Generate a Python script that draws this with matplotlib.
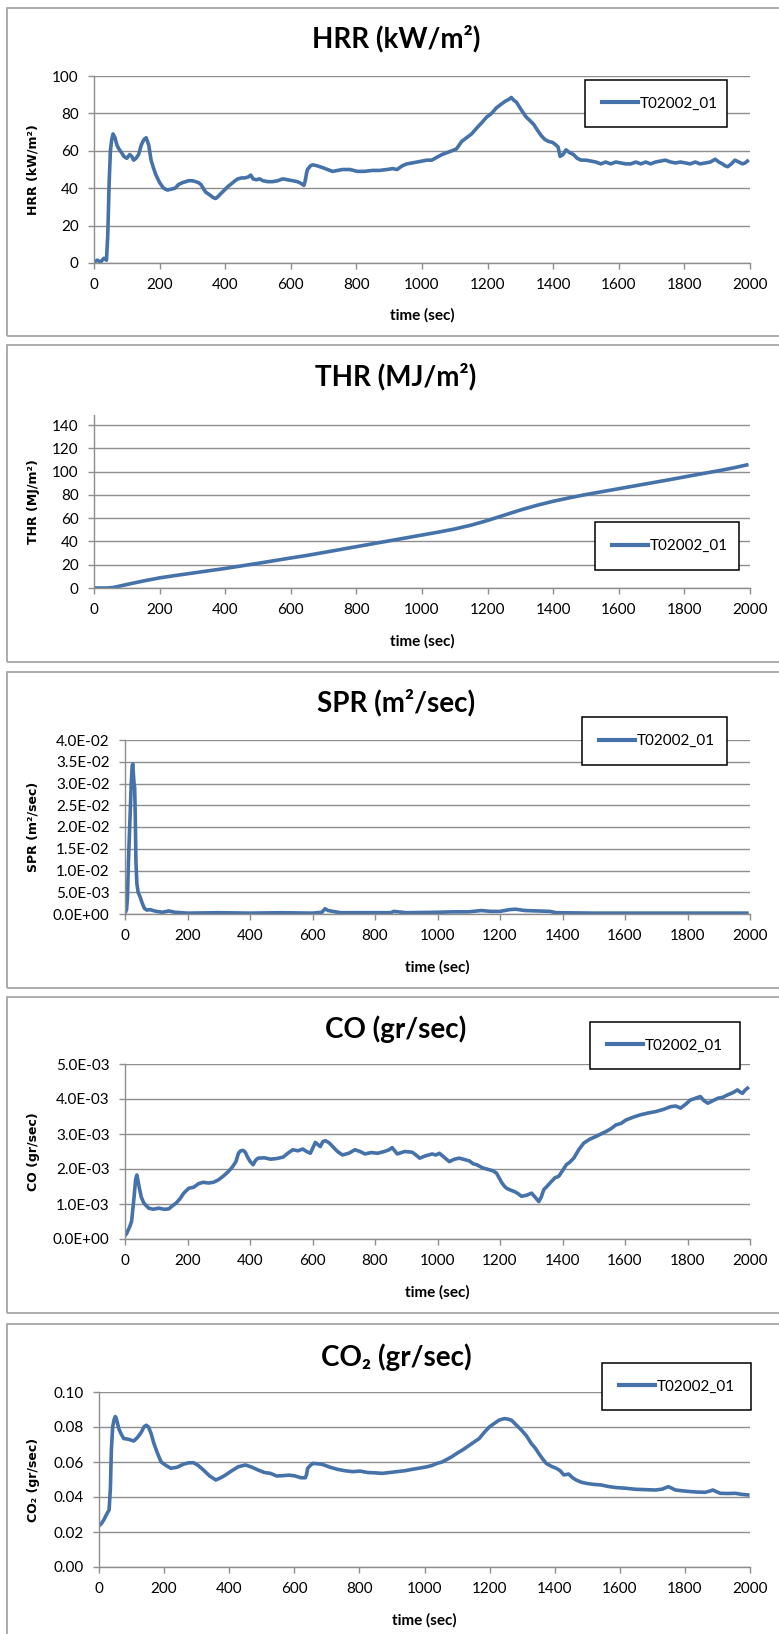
import matplotlib
matplotlib.use("Agg")
import matplotlib.pyplot as plt
import numpy as np
from matplotlib.patches import Rectangle
from matplotlib.ticker import FuncFormatter

# --- data (time in sec) ---
SERIES_NAME = "T02002_01"
TIME_TICKS = [0, 200, 400, 600, 800, 1000, 1200, 1400, 1600, 1800, 2000]

hrr_t = [0, 10, 20, 30, 38, 42, 46, 50, 54, 58,
         64, 70, 76, 84, 91, 100, 109, 115, 121, 128,
         136, 144, 152, 159, 167, 174, 181, 189, 200, 212,
         224, 235, 247, 258, 270, 280, 288, 300, 310, 318,
         326, 333, 340, 348, 356, 363, 371, 378, 386, 395,
         409, 420, 430, 439, 450, 460, 470, 478, 485, 495,
         505, 515, 530, 545, 560, 576, 590, 606, 620, 632,
         640, 644, 648, 651, 660, 667, 680, 697, 712, 727,
         742, 758, 780, 803, 825, 848, 870, 894, 910, 924,
         940, 954, 970, 985, 1000, 1015, 1030, 1045, 1061, 1076,
         1091, 1105, 1121, 1136, 1151, 1166, 1182, 1197, 1212, 1227,
         1242, 1254, 1265, 1272, 1280, 1288, 1295, 1306, 1318, 1330,
         1341, 1352, 1364, 1375, 1386, 1398, 1409, 1415, 1421, 1430,
         1439, 1450, 1462, 1473, 1485, 1500, 1515, 1530, 1545, 1560,
         1575, 1591, 1606, 1621, 1636, 1652, 1667, 1682, 1697, 1712,
         1727, 1742, 1758, 1773, 1788, 1803, 1818, 1833, 1848, 1864,
         1879, 1894, 1905, 1916, 1924, 1932, 1943, 1954, 1966, 1977,
         1985, 1992]
hrr_v = [0.5, 1.5, 0.5, 2.5, 1.5, 15, 42, 60, 66, 69,
         67, 63, 61, 59, 57, 56, 58, 57, 55, 56,
         58, 63, 66, 67, 63, 55, 51, 47, 43, 40,
         39, 39.5, 40, 42, 43, 43.5, 44, 44, 43.5, 43,
         42, 40, 38, 37, 36, 35, 34.5, 35.5, 37, 38.5,
         41, 42.5, 44, 45, 45.5, 45.5, 46, 47, 45, 44.5,
         45, 44, 43.5, 43.5, 44, 45, 44.5, 44, 43.5, 42.5,
         41.5, 44, 48, 50, 52, 52.5, 52, 51, 50, 49,
         49.5, 50, 50, 49, 49, 49.5, 49.5, 50, 50.5, 50,
         52, 53, 53.5, 54, 54.5, 55, 55, 56.5, 58, 59,
         60, 61, 65, 67, 69, 72, 75, 78, 80, 83,
         85, 86.5, 87.5, 88.5, 87, 86, 84, 81, 78, 76,
         74, 71, 68, 66, 65, 64.5, 63, 62, 57, 58,
         60.5, 59, 58, 56, 55, 55, 54.5, 54, 53, 54,
         53, 54, 53.5, 53, 53, 54, 53, 54, 53, 54,
         54.5, 55, 54, 53.5, 54, 53.5, 53, 54, 53, 53.5,
         54, 55.5, 54, 53, 52, 51.5, 53, 55, 54, 53,
         53.5, 54.5]

thr_t = [0, 40, 60, 100, 150, 200, 250, 300, 350, 400,
         450, 500, 550, 600, 650, 700, 750, 800, 850, 900,
         950, 1000, 1050, 1100, 1150, 1200, 1250, 1300, 1350, 1400,
         1450, 1500, 1550, 1600, 1650, 1700, 1750, 1800, 1850, 1900,
         1950, 1990]
thr_v = [0, 0, 0.5, 3, 6, 8.7, 10.8, 12.8, 14.8, 16.8,
         19, 21.2, 23.5, 25.8, 28, 30.5, 33, 35.5, 38, 40.5,
         43, 45.5, 48, 50.7, 54, 58, 62.5, 67, 71, 74.5,
         77.5, 80.3, 82.8, 85.3, 87.8, 90.3, 92.8, 95.4, 98, 100.5,
         103.2, 105.7]

spr_t = [0, 5, 8, 11, 14, 17, 20, 23, 25, 27,
         29, 31, 33, 35, 38, 42, 48, 55, 62, 70,
         80, 90, 100, 120, 140, 160, 200, 300, 400, 500,
         600, 630, 640, 650, 665, 690, 750, 850, 860, 900,
         1000, 1050, 1100, 1140, 1170, 1200, 1230, 1250, 1280, 1320,
         1360, 1380, 1500, 1700, 1990]
spr_v = [0.0002, 0.001, 0.004, 0.012, 0.018, 0.024, 0.030, 0.034, 0.0345, 0.032,
         0.030, 0.029, 0.022, 0.012, 0.007, 0.005, 0.004, 0.0025, 0.0013, 0.0009,
         0.0010, 0.0008, 0.0006, 0.0004, 0.0007, 0.0004, 0.0002, 0.0003, 0.0002, 0.0003,
         0.0002, 0.0004, 0.0012, 0.0008, 0.0006, 0.0003, 0.0003, 0.0003, 0.0006, 0.0003,
         0.0004, 0.0005, 0.0005, 0.0008, 0.0006, 0.0006, 0.0010, 0.0011, 0.0008, 0.0007,
         0.0006, 0.0003, 0.0002, 0.0002, 0.0002]

co_t = [0, 5, 15, 21, 29, 34, 38, 45, 52, 60,
        68, 76, 90, 108, 125, 140, 152, 164, 176, 188,
        204, 220, 235, 250, 267, 283, 299, 315, 331, 343,
        355, 363, 370, 378, 385, 391, 400, 410, 418, 426,
        446, 466, 486, 506, 521, 537, 553, 569, 581, 593,
        601, 609, 617, 625, 633, 641, 653, 665, 680, 696,
        716, 736, 752, 768, 788, 808, 830, 845, 855, 871,
        895, 919, 931, 943, 963, 983, 995, 1006, 1022, 1038,
        1054, 1070, 1086, 1102, 1114, 1126, 1145, 1165, 1177, 1189,
        1197, 1205, 1213, 1221, 1233, 1245, 1257, 1269, 1285, 1301,
        1312, 1324, 1332, 1340, 1352, 1364, 1376, 1388, 1400, 1412,
        1424, 1436, 1452, 1468, 1487, 1507, 1523, 1539, 1555, 1571,
        1587, 1603, 1626, 1650, 1674, 1698, 1722, 1746, 1762, 1778,
        1794, 1809, 1825, 1841, 1853, 1865, 1881, 1897, 1913, 1929,
        1945, 1960, 1968, 1976, 1984, 1992]
# CO values in units of 1e-3 gr/sec
co_v = [0.10, 0.15, 0.35, 0.50, 1.20, 1.70, 1.83, 1.50, 1.20, 1.03,
        0.95, 0.88, 0.85, 0.88, 0.85, 0.86, 0.95, 1.03, 1.15, 1.31,
        1.45, 1.48, 1.58, 1.62, 1.60, 1.62, 1.69, 1.80, 1.93, 2.05,
        2.21, 2.45, 2.52, 2.53, 2.48, 2.36, 2.22, 2.12, 2.25, 2.31,
        2.32, 2.28, 2.30, 2.34, 2.45, 2.55, 2.52, 2.57, 2.50, 2.45,
        2.60, 2.76, 2.70, 2.64, 2.78, 2.81, 2.75, 2.64, 2.50, 2.40,
        2.45, 2.55, 2.50, 2.43, 2.47, 2.45, 2.50, 2.55, 2.61, 2.43,
        2.50, 2.48, 2.40, 2.31, 2.38, 2.43, 2.40, 2.45, 2.33, 2.21,
        2.28, 2.31, 2.27, 2.23, 2.15, 2.12, 2.03, 1.98, 1.95, 1.88,
        1.75, 1.62, 1.52, 1.45, 1.40, 1.36, 1.30, 1.22, 1.25, 1.31,
        1.20, 1.07, 1.20, 1.41, 1.52, 1.64, 1.75, 1.79, 1.95, 2.12,
        2.20, 2.31, 2.55, 2.74, 2.85, 2.93, 3.00, 3.07, 3.15, 3.26,
        3.30, 3.40, 3.48, 3.55, 3.60, 3.64, 3.70, 3.78, 3.80, 3.74,
        3.85, 3.97, 4.02, 4.07, 3.95, 3.88, 3.95, 4.02, 4.05, 4.12,
        4.18, 4.26, 4.20, 4.16, 4.25, 4.31]

co2_t = [0, 8, 15, 23, 31, 35, 38, 42, 46, 50,
         53, 57, 61, 68, 76, 90, 107, 118, 130, 138,
         145, 152, 160, 168, 176, 184, 191, 206, 221, 240,
         260, 275, 290, 305, 321, 340, 359, 374, 389, 408,
         428, 450, 470, 489, 508, 527, 546, 565, 584, 603,
         620, 634, 638, 641, 649, 657, 672, 687, 710, 733,
         756, 779, 802, 825, 848, 870, 893, 916, 939, 962,
         985, 1008, 1023, 1038, 1054, 1069, 1084, 1099, 1118, 1138,
         1153, 1168, 1184, 1199, 1214, 1229, 1245, 1257, 1267, 1283,
         1298, 1313, 1328, 1340, 1351, 1362, 1374, 1390, 1405, 1417,
         1428, 1443, 1455, 1466, 1481, 1497, 1520, 1542, 1565, 1588,
         1618, 1649, 1680, 1710, 1730, 1749, 1760, 1771, 1794, 1817,
         1840, 1863, 1875, 1886, 1897, 1909, 1932, 1955, 1975, 1993]
co2_v = [0.0235, 0.025, 0.027, 0.030, 0.0326, 0.045, 0.067, 0.080, 0.084, 0.086,
         0.085, 0.082, 0.079, 0.076, 0.0734, 0.073, 0.072, 0.074, 0.077, 0.080,
         0.081, 0.080, 0.0763, 0.071, 0.0668, 0.063, 0.060, 0.058, 0.0564, 0.057,
         0.0588, 0.0595, 0.0596, 0.058, 0.0554, 0.052, 0.0497, 0.051, 0.0526, 0.055,
         0.0573, 0.0583, 0.057, 0.0554, 0.054, 0.0535, 0.052, 0.0522, 0.0525, 0.052,
         0.051, 0.051, 0.053, 0.0564, 0.058, 0.0592, 0.059, 0.0586, 0.057, 0.0558,
         0.055, 0.0545, 0.0548, 0.054, 0.0538, 0.0535, 0.054, 0.0545, 0.055, 0.0558,
         0.0565, 0.0573, 0.058, 0.0592, 0.060, 0.0615, 0.063, 0.0649, 0.067, 0.0696,
         0.0715, 0.0734, 0.077, 0.080, 0.082, 0.0839, 0.0848, 0.0845, 0.0839, 0.081,
         0.0782, 0.075, 0.0706, 0.068, 0.0649, 0.062, 0.0592, 0.0575, 0.0564, 0.055,
         0.0526, 0.0531, 0.051, 0.0497, 0.0485, 0.0478, 0.0472, 0.0469, 0.046, 0.0454,
         0.045, 0.0444, 0.0442, 0.044, 0.0445, 0.0459, 0.045, 0.044, 0.0435, 0.0431,
         0.0428, 0.0427, 0.0433, 0.044, 0.043, 0.0421, 0.042, 0.0421, 0.0415, 0.0412]

# --- layout, in pixels of the 779x1634 target ---
W, H = 779, 1634
LINE_COLOR = "#4672AA"
GRID_COLOR = "#8E8E8E"
FRAME_COLOR = "#A6A6A6"
NARROW = ["Lato", "DejaVu Sans"]


def fig_rect(left, top, right, bottom):
    return [left / W, 1 - bottom / H, (right - left) / W, (bottom - top) / H]


def fig_xy(x, y):
    return (x / W, 1 - y / H)


def sci(v, _pos):
    return f"{v:.1E}"


panels = [
    dict(t=hrr_t, v=np.array(hrr_v), title="HRR (kW/m²)", ylabel="HRR (kW/m²)",
         frame=(7, 8, 800, 336), axes=(94, 76, 750, 263), title_y=39,
         yticks=[0, 20, 40, 60, 80, 100], ylim=(0, 100), fmt=None,
         legend=(585, 79, 727, 128), xlabel_y=308),
    dict(t=thr_t, v=np.array(thr_v), title="THR (MJ/m²)", ylabel="THR (MJ/m²)",
         frame=(7, 345, 800, 662), axes=(94, 415, 750, 588), title_y=377,
         yticks=[0, 20, 40, 60, 80, 100, 120, 140], ylim=(0, 148.6), fmt=None,
         legend=(595, 522, 739, 570), xlabel_y=634),
    dict(t=spr_t, v=np.array(spr_v), title="SPR (m²/sec)", ylabel="SPR (m²/sec)",
         frame=(7, 672, 800, 988), axes=(125, 740, 750, 914), title_y=703,
         yticks=[0, 0.005, 0.01, 0.015, 0.02, 0.025, 0.03, 0.035, 0.04], ylim=(0, 0.04), fmt=sci,
         legend=(582, 717, 727, 765), xlabel_y=960),
    dict(t=co_t, v=np.array(co_v) * 1e-3, title="CO (gr/sec)", ylabel="CO (gr/sec)",
         frame=(7, 997, 800, 1313), axes=(125, 1064, 750, 1239), title_y=1029,
         yticks=[0, 0.001, 0.002, 0.003, 0.004, 0.005], ylim=(0, 0.005), fmt=sci,
         legend=(590, 1020, 740, 1071), xlabel_y=1285),
    dict(t=co2_t, v=np.array(co2_v), title="CO₂ (gr/sec)", ylabel="CO₂ (gr/sec)",
         frame=(7, 1324, 800, 1700), axes=(99, 1392, 750, 1567), title_y=1357,
         yticks=[0, 0.02, 0.04, 0.06, 0.08, 0.10], ylim=(0, 0.10),
         fmt=lambda v, _p: f"{v:.2f}",
         legend=(602, 1362, 751, 1411), xlabel_y=1613),
]

fig = plt.figure(figsize=(W / 100, H / 100), dpi=100)

for p in panels:
    l, t, r, b = p["frame"]
    fig.patches.append(Rectangle(fig_xy(l, b), (r - l) / W, (b - t) / H, transform=fig.transFigure,
                                 fill=False, edgecolor=FRAME_COLOR, linewidth=1.3))

    ax = fig.add_axes(fig_rect(*p["axes"]))
    ax.plot(p["t"], p["v"], color=LINE_COLOR, linewidth=2.6, label=SERIES_NAME,
            solid_joinstyle="round")
    ax.set_xlim(0, 2000)
    ax.set_ylim(*p["ylim"])
    ax.set_xticks(TIME_TICKS)
    ax.set_yticks(p["yticks"])
    if p["fmt"] is not None:
        ax.yaxis.set_major_formatter(FuncFormatter(p["fmt"]))

    ax.grid(axis="y", color=GRID_COLOR, linewidth=1.0)
    ax.set_axisbelow(True)
    for side in ("top", "right"):
        ax.spines[side].set_visible(False)
    for side in ("left", "bottom"):
        ax.spines[side].set_color(GRID_COLOR)
        ax.spines[side].set_linewidth(1.0)
    ax.tick_params(axis="both", direction="out", length=4, width=1.0, color=GRID_COLOR,
                   labelsize=11)
    ax.tick_params(axis="x", pad=7)
    ax.tick_params(axis="y", pad=7)
    for lab in ax.get_xticklabels() + ax.get_yticklabels():
        lab.set_family(NARROW)

    ax.set_xlabel("time (sec)", family=NARROW, fontweight="bold", fontsize=11)
    ax.xaxis.set_label_coords(*fig_xy((p["axes"][0] + p["axes"][2]) / 2, p["xlabel_y"]),
                              transform=fig.transFigure)
    ax.set_ylabel(p["ylabel"], fontweight="bold", fontsize=9)
    ax.yaxis.set_label_coords(*fig_xy(40, (p["axes"][1] + p["axes"][3]) / 2),
                              transform=fig.transFigure)

    fig.text(*fig_xy(396, p["title_y"]), p["title"], family=NARROW, fontweight="bold",
             fontsize=20, ha="center", va="center")

    ll, lt, lr, lb = p["legend"]
    leg = ax.legend(loc="center", bbox_to_anchor=(*fig_xy(ll, lb), (lr - ll) / W, (lb - lt) / H),
                    bbox_transform=fig.transFigure, mode="expand", fancybox=False,
                    framealpha=1, edgecolor="black", handlelength=2.4, handletextpad=0.1,
                    borderpad=1.1, borderaxespad=0, prop={"family": NARROW, "size": 11})
    leg.get_frame().set_linewidth(1.1)
    leg.legend_handles[0].set_linewidth(3)

fig.savefig("out.png", dpi=100)
